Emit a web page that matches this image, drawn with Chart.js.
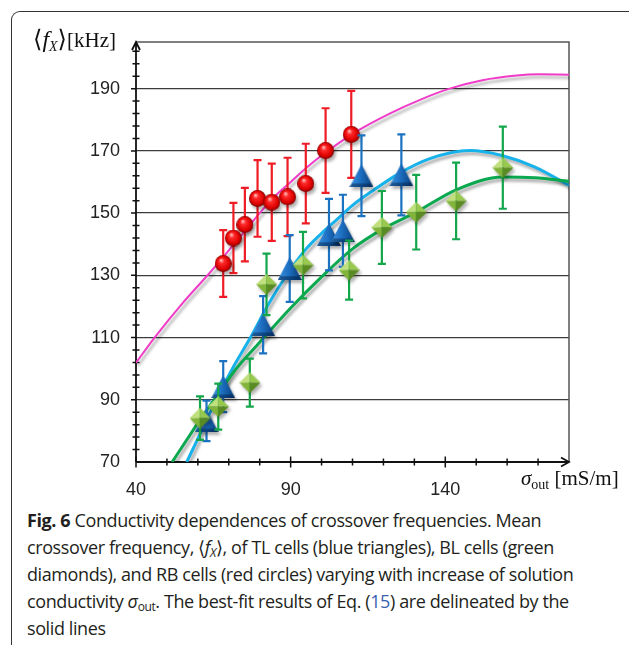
<!DOCTYPE html>
<html>
<head>
<meta charset="utf-8">
<script src="https://cdn.jsdelivr.net/npm/chart.js@4.4.1/dist/chart.umd.min.js"></script>
<style>
  body { margin: 0; background: #fff; width: 629px; height: 645px; overflow: hidden; position: relative; }
  #frame { position: absolute; left: 11px; top: 11px; width: 700px; height: 700px;
           border-top: 1.5px solid #333; border-left: 1.5px solid #333; border-top-left-radius: 9px; }
  #wrap { position: absolute; left: 0; top: 0; width: 629px; height: 500px; }
  .ttl { position: absolute; font-family: 'Liberation Serif', 'DejaVu Serif', serif; color: #111;
         font-size: 21px; white-space: nowrap; }
  .ttl sub { font-size: 14px; vertical-align: -4px; line-height: 0; }
  .ttl .br { font-size: 24px; font-weight: 300; }
  .ttl .big { font-size: 24px; }
  #cap { position: absolute; left: 27px; top: 507px; font-family: 'Open Sans', sans-serif; font-size: 18px;
         line-height: 27px; color: #231f20; white-space: nowrap; letter-spacing: -0.4px; }
  #cap sub { font-size: 12px; vertical-align: -3px; line-height: 0; }
  #cap .ref { color: #3a5fb0; }
</style>
</head>
<body>
<div id="frame"></div>
<div id="wrap"><canvas id="chart" width="629" height="500"></canvas></div>
<div class="ttl" style="left:33px; top:25px;"><span class="br">⟨</span><i class="big">f</i><sub><i>X</i></sub><span class="br">⟩</span>[kHz]</div>
<div class="ttl" style="left:521px; top:466px;"><i>σ</i><sub>out</sub> [mS/m]</div>
<div id="cap">
<b>Fig. 6</b> Conductivity dependences of crossover frequencies. Mean<br>
crossover frequency, ⟨<i>f<sub>X</sub></i>⟩, of TL cells (blue triangles), BL cells (green<br>
diamonds), and RB cells (red circles) varying with increase of solution<br>
conductivity <i>σ</i><sub>out</sub>. The best-fit results of Eq. (<span class="ref">15</span>) are delineated by the<br>
solid lines
</div>
<script>
// RB cells (red circles)
const rbX = [68.2, 71.5, 75.2, 79.3, 83.9, 89.0, 94.9, 101.3, 109.6];
const rbY = [133.8, 142.0, 146.3, 154.7, 153.5, 155.2, 159.5, 170.1, 175.3];
const rbErr = [10.7, 11.3, 11.8, 12.3, 12.4, 12.6, 12.8, 13.6, 14.0];

// TL cells (blue triangles)
const tlX = [62.8, 68.2, 81.1, 89.7, 102.4, 106.9, 112.9, 125.8];
const tlY = [83.2, 94.2, 114.1, 132.2, 143.1, 144.3, 162.0, 162.3];
const tlErr = [6.5, 8.2, 9.2, 10.7, 11.5, 11.6, 13.0, 13.0];

// BL cells (green diamonds)
const blX = [60.7, 66.6, 76.8, 82.2, 94.0, 108.9, 119.5, 130.6, 143.5, 158.6];
const blY = [84.1, 87.8, 95.5, 127.1, 133.3, 131.7, 145.4, 150.3, 153.9, 164.6];
const blErr = [7.0, 7.4, 7.7, 9.9, 10.7, 9.5, 11.7, 12.0, 12.3, 13.2];

// best-fit curves
const fitRbX = [40, 46, 55, 64, 70, 75, 80, 85, 90, 95, 100, 110, 122, 132, 141.4, 152, 163, 170, 180];
const fitRbY = [101.9, 110, 121, 131, 138, 144, 150, 155.5, 160, 164.5, 168.5, 175.5, 182, 186.5, 190, 192.7, 194.2, 194.6, 194.5];
const fitTlX = [56.4, 60, 64, 68, 72, 77, 83, 89, 95, 100, 105, 110, 117, 125, 135, 148, 158, 169, 180];
const fitTlY = [70, 77.5, 86, 94, 101.5, 110, 121, 130.5, 138.5, 143.5, 148, 152.5, 157.5, 162.7, 167.5, 170.1, 168.6, 164.8, 158.9];
const fitBlX = [51.7, 56, 61, 66, 72, 80, 90, 100, 110, 120, 130.6, 143.5, 158.6, 169, 180];
const fitBlY = [70, 76.5, 84, 91, 99.5, 108.5, 119.5, 129.5, 138.5, 145, 150.3, 157.5, 161.6, 161.4, 160.2];

const xTicks = [40, 90, 140];
const yTicks = [70, 90, 110, 130, 150, 170, 190];

const pts = (xs, ys) => xs.map((x, i) => ({ x: x, y: ys[i] }));

// marker images with a bit of 3D shading
function sphere(r) {
    const c = document.createElement('canvas');
    c.width = c.height = 2 * r;
    const g = c.getContext('2d');
    const grad = g.createRadialGradient(r * 0.75, r * 0.6, r * 0.08, r, r, r);
    grad.addColorStop(0, '#ffb0b0');
    grad.addColorStop(0.25, '#ff2a2a');
    grad.addColorStop(0.75, '#dd0000');
    grad.addColorStop(1, '#800000');
    g.fillStyle = grad;
    g.beginPath(); g.arc(r, r, r, 0, Math.PI * 2); g.fill();
    return c;
}

function triangle(w, h) {
    const c = document.createElement('canvas');
    c.width = w; c.height = h;
    const g = c.getContext('2d');
    const grad = g.createLinearGradient(0, 0, w, 0);
    grad.addColorStop(0, '#3f93de');
    grad.addColorStop(0.45, '#1d6fc2');
    grad.addColorStop(1, '#0a3d78');
    g.fillStyle = grad;
    g.beginPath(); g.moveTo(w / 2, 0); g.lineTo(w, h); g.lineTo(0, h); g.closePath(); g.fill();
    g.fillStyle = 'rgba(0,25,60,0.45)';
    g.beginPath(); g.moveTo(0, h); g.lineTo(w, h); g.lineTo(w * 0.9, h * 0.84); g.lineTo(w * 0.1, h * 0.84); g.closePath(); g.fill();
    return c;
}

function diamond(s) {
    const c = document.createElement('canvas');
    c.width = c.height = s;
    const g = c.getContext('2d');
    const m = s / 2;
    const faces = [
        [[m, 0], [0, m], '#bfe07c'],
        [[m, 0], [s, m], '#98c84e'],
        [[0, m], [m, s], '#82b43a'],
        [[s, m], [m, s], '#5a8a22']
    ];
    faces.forEach(f => {
        g.fillStyle = f[2];
        g.beginPath(); g.moveTo(m, m); g.lineTo(f[0][0], f[0][1]); g.lineTo(f[1][0], f[1][1]); g.closePath(); g.fill();
    });
    return c;
}

// error bars drawn just before each marker set, soft shadows on lines and markers
const errorBars = {
    id: 'errorBars',
    beforeDatasetDraw(chart, args) {
        const ds = chart.data.datasets[args.index];
        const ctx = chart.ctx;
        const xs = chart.scales.x, ys = chart.scales.y;
        if (ds.errors) {
            ctx.save();
            ctx.strokeStyle = ds.errColor;
            ctx.lineWidth = 2.2;
            ds.data.forEach((p, i) => {
                const px = xs.getPixelForValue(p.x);
                const top = ys.getPixelForValue(p.y + ds.errors[i]);
                const bot = ys.getPixelForValue(p.y - ds.errors[i]);
                ctx.beginPath();
                ctx.moveTo(px, top); ctx.lineTo(px, bot);
                ctx.moveTo(px - 4, top); ctx.lineTo(px + 4, top);
                ctx.moveTo(px - 4, bot); ctx.lineTo(px + 4, bot);
                ctx.stroke();
            });
            ctx.restore();
        }
        ctx.save();
        ctx.shadowColor = ds.errors ? 'rgba(0,0,0,0.3)' : 'rgba(0,0,0,0.35)';
        ctx.shadowOffsetX = 2;
        ctx.shadowOffsetY = 3;
        ctx.shadowBlur = 3;
    },
    afterDatasetDraw(chart) {
        chart.ctx.restore();
    }
};

// axes with arrows, minor ticks and the frame on top/right
const axesDeco = {
    id: 'axesDeco',
    beforeDatasetsDraw(chart) {
        const ctx = chart.ctx;
        const a = chart.chartArea;
        const xs = chart.scales.x, ys = chart.scales.y;
        ctx.save();
        ctx.strokeStyle = '#555';
        ctx.lineWidth = 1.5;
        ctx.beginPath();
        ctx.moveTo(a.left, a.top); ctx.lineTo(a.right, a.top); ctx.lineTo(a.right, a.bottom);
        ctx.stroke();

        ctx.strokeStyle = '#111';
        ctx.lineWidth = 1.8;
        ctx.beginPath();
        ctx.moveTo(a.left, a.bottom); ctx.lineTo(a.left, a.top);
        ctx.moveTo(a.left, a.bottom); ctx.lineTo(a.right, a.bottom);
        // arrows
        ctx.moveTo(a.left - 4, a.top + 8); ctx.lineTo(a.left, a.top); ctx.lineTo(a.left + 4, a.top + 8);
        ctx.moveTo(a.right - 8, a.bottom - 4.5); ctx.lineTo(a.right, a.bottom); ctx.lineTo(a.right - 8, a.bottom + 4.5);
        ctx.stroke();

        ctx.lineWidth = 1.5;
        ctx.beginPath();
        for (let v = 74; v <= 202; v += 4) {
            const py = ys.getPixelForValue(v);
            if (yTicks.includes(v)) { ctx.moveTo(a.left - 5, py); ctx.lineTo(a.left, py); }
            else { ctx.moveTo(a.left - 3.5, py); ctx.lineTo(a.left + 3.5, py); }
        }
        for (let v = 40; v <= 170; v += 10) {
            const px = xs.getPixelForValue(v);
            const h = xTicks.includes(v) ? 5.5 : 3.5;
            ctx.moveTo(px, a.bottom - h); ctx.lineTo(px, a.bottom + h);
        }
        ctx.stroke();
        ctx.restore();
    }
};

new Chart(document.getElementById('chart'), {
    type: 'scatter',
    data: {
        datasets: [
            { label: 'BL', data: pts(blX, blY), errors: blErr, errColor: '#13a64a', order: 0,
              pointStyle: diamond(21), pointRadius: 10 },
            { label: 'TL', data: pts(tlX, tlY), errors: tlErr, errColor: '#1b72c0', order: 1,
              pointStyle: triangle(24, 23), pointRadius: 11 },
            { label: 'RB', data: pts(rbX, rbY), errors: rbErr, errColor: '#ee1c24', order: 2,
              pointStyle: sphere(8.5), pointRadius: 8 },
            { label: 'BL fit', data: pts(fitBlX, fitBlY), showLine: true, pointRadius: 0, order: 3,
              borderColor: '#0aa84f', borderWidth: 3, cubicInterpolationMode: 'monotone' },
            { label: 'TL fit', data: pts(fitTlX, fitTlY), showLine: true, pointRadius: 0, order: 4,
              borderColor: '#17b2ea', borderWidth: 3, cubicInterpolationMode: 'monotone' },
            { label: 'RB fit', data: pts(fitRbX, fitRbY), showLine: true, pointRadius: 0, order: 5,
              borderColor: '#f03cc8', borderWidth: 2, cubicInterpolationMode: 'monotone' }
        ]
    },
    options: {
        responsive: false,
        animation: false,
        layout: { padding: { top: 42, right: 60, left: 0, bottom: 0 } },
        plugins: { legend: { display: false }, tooltip: { enabled: false } },
        scales: {
            x: {
                type: 'linear', min: 40, max: 180,
                afterFit(scale) { scale.height = 38; },
                afterBuildTicks(scale) { scale.ticks = xTicks.map(v => ({ value: v })); },
                grid: { display: false },
                border: { display: false },
                ticks: { padding: 9, color: '#222', font: { family: 'Liberation Sans', size: 18 } }
            },
            y: {
                type: 'linear', min: 70, max: 205,
                afterFit(scale) { scale.width = 136; },
                afterBuildTicks(scale) { scale.ticks = yTicks.map(v => ({ value: v })); },
                grid: { color: '#3c3c3c', lineWidth: 1.3, drawTicks: false },
                border: { display: false },
                ticks: { padding: 16, color: '#222', font: { family: 'Liberation Sans', size: 18 } }
            }
        }
    },
    plugins: [errorBars, axesDeco]
});
</script>
</body>
</html>
